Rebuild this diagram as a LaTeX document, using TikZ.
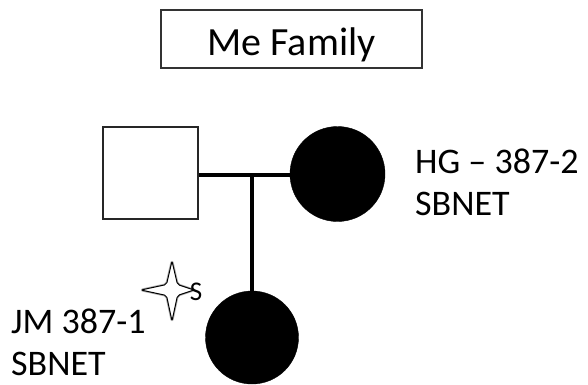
\documentclass[tikz,border=0pt]{standalone}
\usepackage{fontspec}
\setmainfont{Carlito}
\usetikzlibrary{shadows}
\begin{document}
\begin{tikzpicture}[x=1pt,y=-1pt,
  lbl/.style={anchor=base west,inner sep=0pt,font=\fontsize{36}{42}\selectfont},
  titlebox/.style={draw=black!80,line width=1.5pt,minimum width=261pt,minimum height=58pt,inner sep=0pt,
    text height=32pt,text depth=0pt,font=\fontsize{40}{48}\selectfont},
  male/.style={draw=black!85,line width=1.6pt,fill=white,minimum width=95pt,minimum height=92pt,inner sep=0pt,
    drop shadow={opacity=0.25,shadow xshift=1.2pt,shadow yshift=-1.2pt}},
  affected/.style={circle,fill=black,draw=black,inner sep=0pt},
  link/.style={line width=4.5pt,black},
  sparkle/.style={line join=round,rounded corners=2pt}]
\useasboundingbox (0,0) rectangle (588,384);
\node[titlebox] (title) at (291.5,39) {Me Family};
\node[male] (father) at (150.5,173) {};
\node[affected,minimum size=95pt] (mother) at (337.5,174) {};
\node[affected,minimum size=93pt] (child) at (252,337.5) {};
\coordinate (mid) at (252,175);
\draw[link] (father.east |- mid) -- (mother.west |- mid);
\draw[link] (mid) -- (child.north);
\node[lbl] (hg1) at (415,173) {HG – 387-2};
\node[lbl] (hg2) at (415,215) {SBNET};
\node[lbl] (jm1) at (11,333) {JM 387-1};
\node[lbl] (jm2) at (11,375) {SBNET};
% sparkle star
\path[sparkle,draw=black!30,line width=2.6pt,fill=white]
  (172,261) -- (177.5,284.5) -- (194,290) -- (177.5,295.5) -- (172,321)
  -- (166.5,295.5) -- (141,290) -- (166.5,284.5) -- cycle;
\path[sparkle,draw=black,line width=1pt,fill=white]
  (172,261) -- (177.5,284.5) -- (194,290) -- (177.5,295.5) -- (172,321)
  -- (166.5,295.5) -- (141,290) -- (166.5,284.5) -- cycle;
\node[inner sep=0pt,font=\fontsize{27}{30}\selectfont] (s) at (196,292) {S};
\end{tikzpicture}
\end{document}
